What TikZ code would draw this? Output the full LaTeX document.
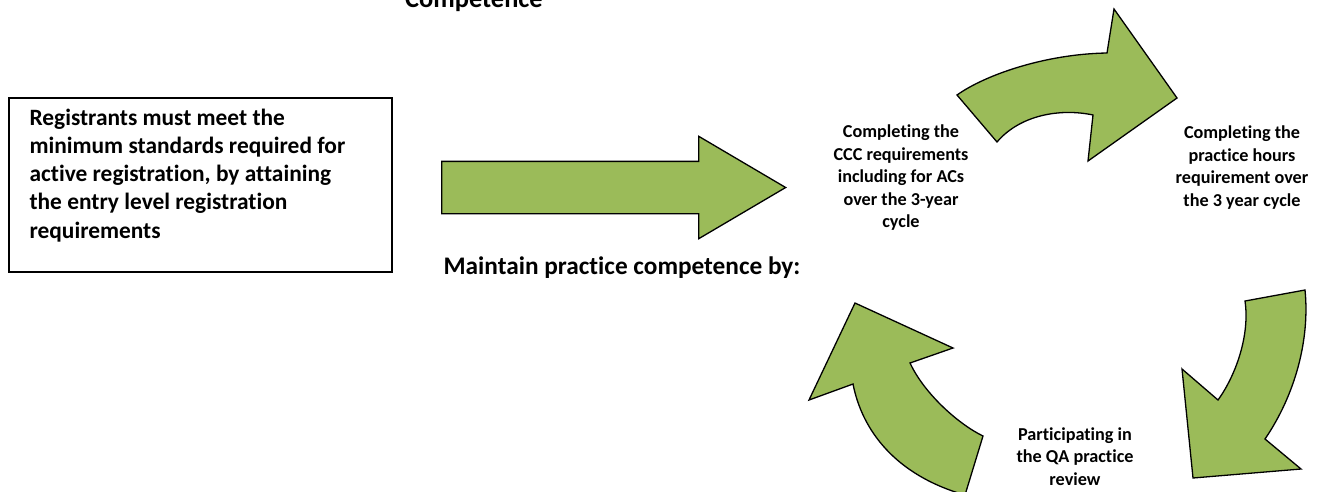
\documentclass[tikz,border=0pt]{standalone}
\usepackage{fontspec}
\setmainfont{Carlito}[Ligatures=CommonOff]
\usetikzlibrary{shapes.arrows}
\definecolor{arrowgreen}{HTML}{9BBB59}

\begin{document}
\begin{tikzpicture}[x=1pt, y=-1pt,
        bigtext/.style={font=\fontsize{23.4}{28.2}\selectfont\bfseries},
        steptext/.style={font=\fontsize{18.2}{22.5}\selectfont\bfseries, align=center, inner sep=0pt},
        cyclearrow/.style={fill=arrowgreen, draw=black, line width=1.3pt, line join=miter}
    ]
    \useasboundingbox (0,0) rectangle (1322,491);

    % Titel (oben abgeschnitten)
    \node[font=\fontsize{26.4}{30}\selectfont\bfseries, anchor=base] (title) at (474,7) {Competence};

    % Eintrittsbox
    \node[draw=black, line width=1.3pt, minimum width=383pt, minimum height=174pt, inner sep=0pt] (regbox) at (200.5,185) {};
    \node[bigtext, anchor=base west, align=flush left, text width=355pt, inner sep=0pt] (regtext) at ([xshift=21pt, yshift=-28pt]regbox.north west) {Registrants must meet the\\minimum standards required for\\active registration, by attaining\\the entry level registration\\requirements};

    % Gerader Pfeil
    \node[single arrow, fill=arrowgreen, draw=black, line width=1.3pt, minimum height=344pt,
        single arrow head extend=25pt, single arrow tip angle=61, single arrow head indent=0pt,
        inner xsep=0pt, inner ysep=25.5pt, anchor=tail] (entry) at (441,187.5) {};
    \node[font=\fontsize{25.3}{30}\selectfont\bfseries, anchor=base] (maintain) at (622,274) {Maintain practice competence by:};

    % Zyklus-Texte
    \node[steptext] (ccc) at (901,178) {Completing the\\CCC requirements\\including for ACs\\over the 3-year\\cycle};
    \node[steptext] (hours) at (1242,167.5) {Completing the\\practice hours\\requirement over\\the 3 year cycle};
    \node[steptext] (qa) at (1075,456.5) {Participating in\\the QA practice\\review};

    % Gebogene Pfeile
    \draw[cyclearrow] (957,95) .. controls (985,75) and (1045,54) .. (1107,53) -- (1114,9) -- (1177,98)
        -- (1088,161) -- (1093,115) .. controls (1060,108) and (1020,115) .. (997,142) -- cycle;
    \draw[cyclearrow] (1245,301) -- (1305,290) .. controls (1310,340) and (1295,395) .. (1265,439)
        -- (1301,469) -- (1193,478) -- (1182,369) -- (1218,400) .. controls (1236,375) and (1250,335) .. cycle;
    \draw[cyclearrow] (983,436) .. controls (960,425) and (925,395) .. (910,363) -- (953,348) -- (855,303)
        -- (809,400) -- (853,384) .. controls (862,430) and (895,475) .. (965,495) -- cycle;
\end{tikzpicture}
\end{document}
